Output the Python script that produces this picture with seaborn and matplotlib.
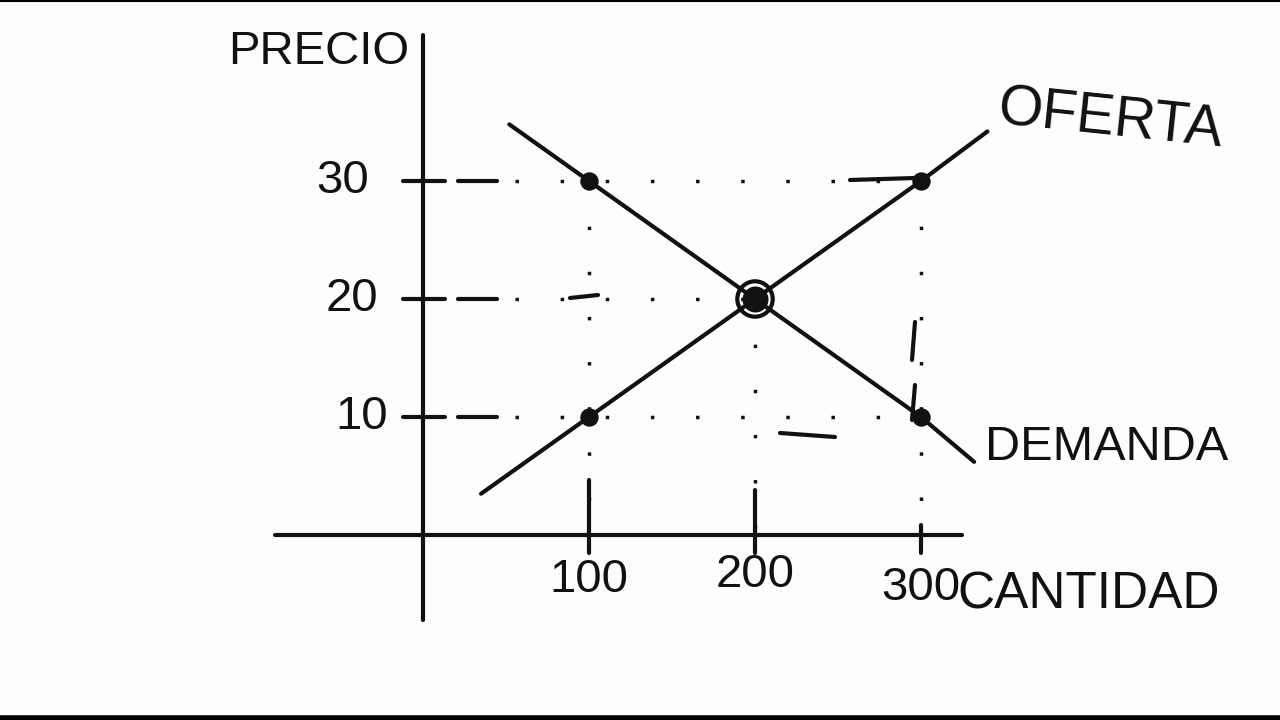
import matplotlib
matplotlib.use("Agg")
import matplotlib.pyplot as plt
import seaborn as sns
import pandas as pd
import numpy as np

sns.set_theme(style="white")
plt.rcParams['font.family'] = ['Liberation Sans', 'DejaVu Sans']

# ---- data ----
cantidad_ticks = [100, 200, 300]
precio_ticks = [10, 20, 30]
tick_labels_x = ["100", "200", "300"]
tick_labels_y = ["10", "20", "30"]

oferta_q = [35, 100, 200, 300, 340]
oferta_p = [3.5, 10, 20, 30, 34.2]
demanda_q = [52, 100, 200, 300, 332]
demanda_p = [34.8, 30, 20, 10, 6.2]

puntos_q = [100, 300, 100, 300]
puntos_p = [30, 30, 10, 10]
equilibrio_q = [200]
equilibrio_p = [20]

# ---- pixel mapping (figure pixels -> data) ----
OX, SX = 423.0, 1.66   # x pixel of q=0, px per unit
OY, SY = 535.0, 11.8   # y pixel (from top) of p=0, px per unit
W, H = 1280, 720

def qx(px):
    return (px - OX) / SX

def py_(py):
    return (OY - py) / SY

fig = plt.figure(figsize=(12.8, 7.2), dpi=100)
fig.patch.set_facecolor("#fdfdfd")
ax = fig.add_axes([0, 0, 1, 1])
ax.set_facecolor("#fdfdfd")

ink = "#111111"

# axes
ax.plot([0, 0], [py_(620), py_(35)], color=ink, lw=3, solid_capstyle="round")
ax.plot([qx(275), qx(962)], [0, 0], color=ink, lw=3, solid_capstyle="round")

# y ticks + dashes near the axis
for p in precio_ticks:
    ax.plot([qx(403), qx(445)], [p, p], color=ink, lw=3, solid_capstyle="round")
    ax.plot([qx(458), qx(497)], [p, p], color=ink, lw=3, solid_capstyle="round")
# horizontal dotted guides
ax.plot([qx(515), 300], [30, 30], color=ink, lw=2.5, ls=(0, (1, 12)))
ax.plot([qx(515), 200], [20, 20], color=ink, lw=2.5, ls=(0, (1, 12)))
ax.plot([qx(515), 300], [10, 10], color=ink, lw=2.5, ls=(0, (1, 12)))
ax.plot([qx(780), qx(835)], [py_(433), py_(437)], color=ink, lw=3, solid_capstyle="round")
ax.plot([qx(850), qx(915)], [py_(180), py_(178)], color=ink, lw=3, solid_capstyle="round")
ax.plot([qx(570), qx(598)], [py_(298), py_(295)], color=ink, lw=3, solid_capstyle="round")

# vertical dotted guides
ax.plot([100, 100], [30, 0], color=ink, lw=2.5, ls=(0, (1, 12)))
ax.plot([200, 200], [20, 0], color=ink, lw=2.5, ls=(0, (1, 12)))
ax.plot([300, 300], [30, 0], color=ink, lw=2.5, ls=(0, (1, 12)))

# x ticks
for q, top in zip(cantidad_ticks, [480, 490, 525]):
    ax.plot([q, q], [py_(top), py_(553)], color=ink, lw=3, solid_capstyle="round")
ax.plot([qx(915), qx(912)], [py_(322), py_(360)], color=ink, lw=3, solid_capstyle="round")
ax.plot([qx(915), qx(912)], [py_(385), py_(420)], color=ink, lw=3, solid_capstyle="round")

# supply & demand lines
df_o = pd.DataFrame({"q": oferta_q, "p": oferta_p})
df_d = pd.DataFrame({"q": demanda_q, "p": demanda_p})
sns.lineplot(data=df_o, x="q", y="p", ax=ax, color=ink, lw=3, sort=False)
sns.lineplot(data=df_d, x="q", y="p", ax=ax, color=ink, lw=3, sort=False)

# points
df_pts = pd.DataFrame({"q": puntos_q, "p": puntos_p})
sns.scatterplot(data=df_pts, x="q", y="p", ax=ax, color=ink, s=150, edgecolor=ink, zorder=5)
df_eq = pd.DataFrame({"q": equilibrio_q, "p": equilibrio_p})
sns.scatterplot(data=df_eq, x="q", y="p", ax=ax, color=ink, s=300, edgecolor=ink, zorder=5)
sns.scatterplot(data=df_eq, x="q", y="p", ax=ax, facecolor="none", s=650,
                edgecolor=ink, linewidth=3, zorder=6)
ax.set_xlabel("")
ax.set_ylabel("")
ax.set_xlim(qx(0), qx(W))
ax.set_ylim(py_(H), py_(0))
ax.axis("off")

# texts
fs_tick = 34
for p, lab, px in zip(precio_ticks, tick_labels_y, [362, 352, 343]):
    ax.text(qx(px), p, lab, ha="center", va="center", fontsize=fs_tick, color=ink)
for q, lab, pyy in zip(cantidad_ticks, tick_labels_x, [580, 575, 588]):
    ax.text(q, py_(pyy), lab, ha="center", va="center", fontsize=fs_tick, color=ink)

ax.text(qx(228), py_(52), "PRECIO", ha="left", va="center", fontsize=34, color=ink)
ax.text(qx(995), py_(120), "OFERTA", ha="left", va="center", fontsize=41, color=ink, rotation=-6)
ax.text(qx(985), py_(448), "DEMANDA", ha="left", va="center", fontsize=35, color=ink)
ax.text(qx(957), py_(595), "CANTIDAD", ha="left", va="center", fontsize=37, color=ink)

# frame lines top & bottom
ax.axhline(py_(1), color="black", lw=1.5)
ax.axhline(py_(718), color="black", lw=4)

fig.savefig("out.png", dpi=100, facecolor=fig.get_facecolor())
